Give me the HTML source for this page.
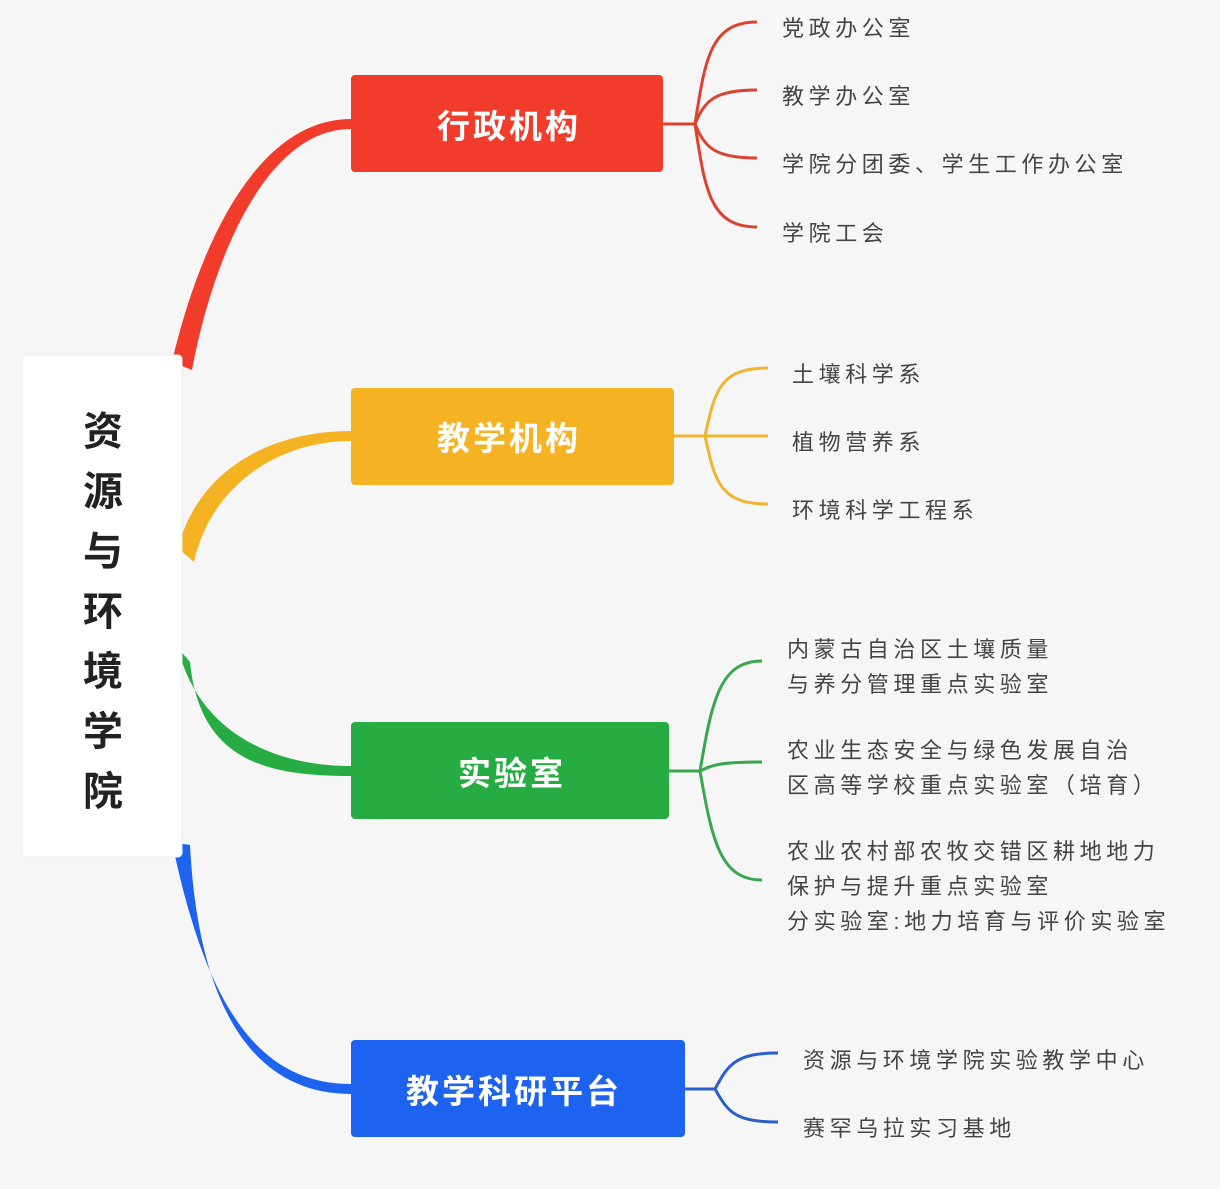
<!DOCTYPE html>
<html><head><meta charset="utf-8"><style>
html,body{margin:0;padding:0;background:#f6f6f6;}
svg{display:block;}
text{font-family:"Liberation Sans","Noto Sans CJK SC",sans-serif;}
.l{font-size:22px;fill:#444;letter-spacing:4.6px;}
.n{font-size:33px;fill:#fff;letter-spacing:3px;text-anchor:middle;font-weight:bold;}
.r{font-size:40px;fill:#222;text-anchor:middle;font-weight:bold;}
</style></head><body>
<svg width="1220" height="1189" viewBox="0 0 1220 1189">
<rect width="1220" height="1189" fill="#f6f6f6"/>
<path d="M172,362 C198,250 255,119 351,119 L351,129 C265,129 212,262 192,370 Z" fill="#f23c2b"/>
<path d="M178,548 C198,470 270,431 351,431 L351,441 C282,441 212,482 194,562 Z" fill="#f5b324"/>
<path d="M178,648 C198,730 270,766 351,766 L351,776 C268,776 200,762 190,662 Z" fill="#27ac44"/>
<path d="M172,842 C205,1000 255,1084 351,1084 L351,1094 C250,1094 198,1002 190,845 Z" fill="#1d63f0"/>
<rect x="22" y="355" width="160" height="502" rx="4" fill="#fff" stroke="#eee"/>
<text x="103" y="445" class="r">资</text>
<text x="103" y="505" class="r">源</text>
<text x="103" y="565" class="r">与</text>
<text x="103" y="625" class="r">环</text>
<text x="103" y="685" class="r">境</text>
<text x="103" y="745" class="r">学</text>
<text x="103" y="805" class="r">院</text>
<rect x="351" y="75" width="312" height="97" rx="4" fill="#f23c2b"/>
<text x="509" y="138" class="n">行政机构</text>
<rect x="351" y="388" width="323" height="97" rx="4" fill="#f5b324"/>
<text x="509" y="450" class="n">教学机构</text>
<rect x="351" y="722" width="318" height="97" rx="4" fill="#27ac44"/>
<text x="512" y="785" class="n">实验室</text>
<rect x="351" y="1040" width="334" height="97" rx="4" fill="#1d63f0"/>
<text x="514" y="1103" class="n">教学科研平台</text>
<g fill="none" stroke="#d9432f" stroke-width="3">
<path d="M663,124 H695"/>
<path d="M695,124 C705,60 710,22 757,22"/>
<path d="M695,124 C705,100 715,90 757,90"/>
<path d="M695,124 C705,148 715,158 757,158"/>
<path d="M695,124 C705,190 710,227 757,227"/>
</g>
<text x="782" y="36" class="l">党政办公室</text>
<text x="782" y="104" class="l">教学办公室</text>
<text x="782" y="172" class="l">学院分团委、学生工作办公室</text>
<text x="782" y="241" class="l">学院工会</text>
<g fill="none" stroke="#f0b52c" stroke-width="3">
<path d="M674,436 H768"/>
<path d="M705,436 C715,390 720,368 768,368"/>
<path d="M705,436 C715,482 720,504 768,504"/>
</g>
<text x="792" y="382" class="l">土壤科学系</text>
<text x="792" y="450" class="l">植物营养系</text>
<text x="792" y="518" class="l">环境科学工程系</text>
<g fill="none" stroke="#3aa64d" stroke-width="3">
<path d="M669,771 H700"/>
<path d="M700,771 C712,700 720,661 762,661"/>
<path d="M700,771 C712,765 720,762 762,762"/>
<path d="M700,771 C712,840 720,880 762,880"/>
</g>
<text x="787" y="657" class="l">内蒙古自治区土壤质量</text>
<text x="787" y="692" class="l">与养分管理重点实验室</text>
<text x="787" y="758" class="l">农业生态安全与绿色发展自治</text>
<text x="787" y="793" class="l">区高等学校重点实验室（培育）</text>
<text x="787" y="859" class="l">农业农村部农牧交错区耕地地力</text>
<text x="787" y="894" class="l">保护与提升重点实验室</text>
<text x="787" y="929" class="l">分实验室:地力培育与评价实验室</text>
<g fill="none" stroke="#2a5fc9" stroke-width="3">
<path d="M685,1089 H715"/>
<path d="M715,1089 C728,1065 735,1053 778,1053"/>
<path d="M715,1089 C728,1112 735,1122 778,1122"/>
</g>
<text x="803" y="1068" class="l">资源与环境学院实验教学中心</text>
<text x="803" y="1136" class="l">赛罕乌拉实习基地</text>
</svg>
</body></html>
